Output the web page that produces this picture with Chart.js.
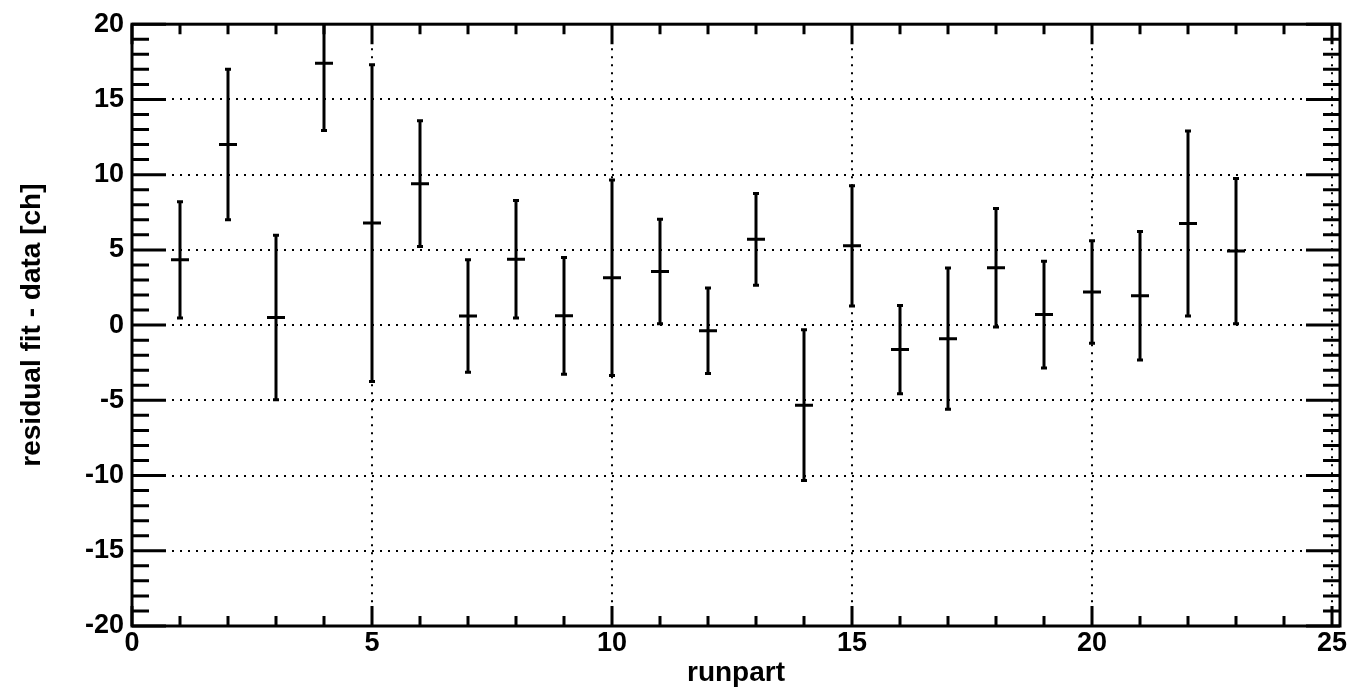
<!DOCTYPE html>
<html>
<head>
<meta charset="utf-8">
<title>residual fit - data</title>
<script src="https://cdn.jsdelivr.net/npm/chart.js@4.4.1/dist/chart.umd.min.js"></script>
<style>
  html, body { margin: 0; padding: 0; background: #fff; }
  canvas { display: block; }
</style>
</head>
<body>
<canvas id="residuals" width="1357" height="697"></canvas>
<script>
// values
const runparts = [1, 2, 3, 4, 5, 6, 7, 8, 9, 10, 11, 12, 13, 14, 15, 16, 17, 18, 19, 20, 21, 22, 23];
const residuals = [4.34, 12.0, 0.5, 17.4, 6.78, 9.4, 0.61, 4.38, 0.62, 3.15, 3.56, -0.37,
                   5.7, -5.32, 5.27, -1.63, -0.9, 3.81, 0.7, 2.2, 1.95, 6.75, 4.92];
const residualErrors = [3.86, 5.0, 5.47, 4.47, 10.53, 4.18, 3.74, 3.9, 3.88, 6.5, 3.47, 2.84,
                        3.05, 5.01, 4.0, 2.93, 4.7, 3.94, 3.55, 3.4, 4.27, 6.15, 4.83];
const xTickValues = [0, 5, 10, 15, 20, 25];
const yTickValues = [-20, -15, -10, -5, 0, 5, 10, 15, 20];
const xTitle = 'runpart';
const yTitle = 'residual fit - data [ch]';

const FONT = "'Liberation Sans', Arial, Helvetica, sans-serif";

// error bars + ROOT style frame with inward ticks on all 4 sides
const rootFrame = {
    id: 'rootFrame',
    afterDatasetsDraw(chart) {
        const { ctx, chartArea: area, scales: { x, y } } = chart;
        ctx.save();
        ctx.strokeStyle = '#000';
        ctx.lineCap = 'butt';

        ctx.save();
        ctx.beginPath();
        ctx.rect(area.left, area.top, area.right - area.left, area.bottom - area.top);
        ctx.clip();
        ctx.lineWidth = 3;
        runparts.forEach((r, i) => {
            const px = x.getPixelForValue(r);
            const hi = y.getPixelForValue(residuals[i] + residualErrors[i]);
            const lo = y.getPixelForValue(residuals[i] - residualErrors[i]);
            ctx.beginPath();
            ctx.moveTo(px, hi);
            ctx.lineTo(px, lo);
            ctx.moveTo(px - 3, hi);
            ctx.lineTo(px + 3, hi);
            ctx.moveTo(px - 3, lo);
            ctx.lineTo(px + 3, lo);
            ctx.stroke();
        });
        ctx.restore();

        ctx.lineWidth = 3;
        ctx.beginPath();
        // y ticks, left and right
        for (let v = Math.ceil(y.min); v <= y.max; v++) {
            const py = y.getPixelForValue(v);
            const len = v % 5 === 0 ? 34 : 17;
            ctx.moveTo(area.left, py);
            ctx.lineTo(area.left + len, py);
            ctx.moveTo(area.right, py);
            ctx.lineTo(area.right - len, py);
        }
        // x ticks, bottom and top
        for (let v = Math.ceil(x.min); v <= x.max; v++) {
            const px = x.getPixelForValue(v);
            const len = v % 5 === 0 ? 20 : 10;
            ctx.moveTo(px, area.bottom);
            ctx.lineTo(px, area.bottom - len);
            ctx.moveTo(px, area.top);
            ctx.lineTo(px, area.top + len);
        }
        ctx.stroke();

        ctx.strokeRect(area.left, area.top, area.right - area.left, area.bottom - area.top);
        ctx.restore();
    }
};

const tickFont = { family: FONT, size: 27, weight: 'bold' };
const titleFont = { family: FONT, size: 28, weight: 'bold' };

new Chart(document.getElementById('residuals'), {
    type: 'scatter',
    data: {
        datasets: [{
            data: runparts.map((r, i) => ({ x: r, y: residuals[i] })),
            pointStyle: 'line',
            pointRadius: 9,
            pointHoverRadius: 9,
            borderWidth: 3,
            borderColor: '#000',
            backgroundColor: '#000'
        }]
    },
    options: {
        responsive: false,
        animation: false,
        devicePixelRatio: 1,
        layout: { padding: { left: 0, top: 22, right: 17, bottom: 0 } },
        plugins: {
            legend: { display: false },
            tooltip: { enabled: false }
        },
        scales: {
            x: {
                type: 'linear',
                min: 0,
                max: 25 * 1208 / 1200,
                afterBuildTicks: (scale) => { scale.ticks = xTickValues.map(v => ({ value: v })); },
                afterFit: (scale) => { scale.height = 71; },
                ticks: { font: tickFont, color: '#000', padding: 1, maxRotation: 0, autoSkip: false },
                grid: { color: '#000', lineWidth: 2, drawTicks: false },
                border: { display: false, dash: [2, 6] },
                title: { display: true, text: xTitle, font: titleFont, color: '#000', padding: { top: 0, bottom: 7 } }
            },
            y: {
                type: 'linear',
                min: -20,
                max: 20,
                afterBuildTicks: (scale) => { scale.ticks = yTickValues.map(v => ({ value: v })); },
                afterFit: (scale) => { scale.width = 132; },
                ticks: { font: tickFont, color: '#000', padding: 8, autoSkip: false },
                grid: { color: '#000', lineWidth: 2, drawTicks: false },
                border: { display: false, dash: [2, 6] },
                title: { display: true, text: yTitle, font: titleFont, color: '#000', padding: { top: 15, bottom: 0 } }
            }
        }
    },
    plugins: [rootFrame]
});
</script>
</body>
</html>
